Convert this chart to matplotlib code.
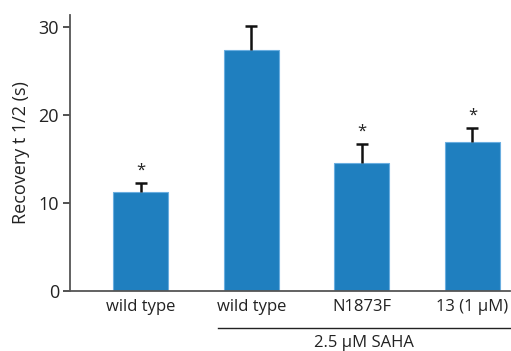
import matplotlib
matplotlib.use("Agg")
import matplotlib.pyplot as plt
import matplotlib.transforms as mtransforms

categories = ["wild type", "wild type", "N1873F", "13 (1 \u00b5M)"]
values = [11.3, 27.4, 14.6, 16.9]
errors = [1.0, 2.8, 2.1, 1.7]
significant = [True, False, True, True]
yticks = [0, 10, 20, 30]
group_label = "2.5 \u00b5M SAHA"
ylabel = "Recovery t 1/2 (s)"

plt.rcParams['font.family'] = ['Open Sans', 'DejaVu Sans']
plt.rcParams['font.size'] = 12

fig = plt.figure(figsize=(5.11, 3.51), dpi=100)
W, H = 511, 351
ax = fig.add_axes([70 / W, 1 - 291 / H, (510 - 70) / W, (291 - 15) / H])

x = list(range(len(categories)))
tops = [v + e for v, e in zip(values, errors)]
ax.bar(x, values, width=0.5, color='#1f7fbf', edgecolor='#6aaee0', linewidth=0.8, zorder=2)
ax.errorbar(x, values, yerr=[[0] * len(values), errors], fmt='none', ecolor='#111111',
            elinewidth=1.8, capsize=0, zorder=3)
ax.plot(x, tops, ls='none', marker='_', ms=8, mew=1.8, color='#111111', zorder=3)
for xi, t, s in zip(x, tops, significant):
    if s:
        ax.annotate("*", (xi, t), xytext=(0, 3), textcoords='offset points',
                    ha='center', va='bottom', fontsize=12, color='#222222')

ax.set_xlim(-0.64, 3.34)
ax.set_ylim(0, 31.4)
ax.set_yticks(yticks)
ax.set_xticks(x)
ax.set_xticklabels(categories)
ax.tick_params(axis='x', length=0, pad=6, labelsize=12, colors='#222222')
ax.tick_params(axis='y', length=5, width=1.2, direction='out', labelsize=13, colors='#333333', pad=3)
for lab in ax.get_yticklabels():
    lab.set_color('#222222')
ax.set_ylabel(ylabel, fontsize=13, color='#222222', labelpad=6)

for side in ['top', 'right']:
    ax.spines[side].set_visible(False)
for side in ['left', 'bottom']:
    ax.spines[side].set_linewidth(1.3)
    ax.spines[side].set_color('#555555')

trans = mtransforms.blended_transform_factory(ax.transData, ax.transAxes)
ax.plot([0.70, 3.34], [-0.134, -0.134], transform=trans, color='#222222', lw=1.0, clip_on=False)
ax.text(2.02, -0.19, group_label, transform=trans, ha='center', va='center', fontsize=12, color='#222222')

fig.savefig("out.png", dpi=100)
